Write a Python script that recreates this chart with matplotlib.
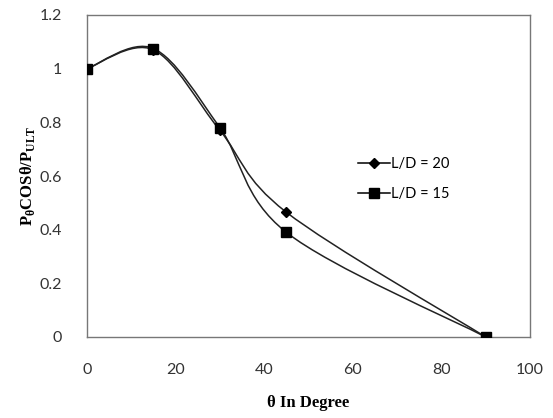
import numpy as np
import matplotlib.pyplot as plt
from matplotlib.path import Path
from matplotlib.patches import PathPatch

plt.rcParams['mathtext.fontset'] = 'custom'
plt.rcParams['mathtext.rm'] = 'Liberation Serif'
plt.rcParams['mathtext.bf'] = 'Liberation Serif:bold'

# data
theta = [0, 15, 30, 45, 90]
ld20 = [1.0, 1.07, 0.77, 0.465, 0.0]
ld15 = [1.0, 1.075, 0.78, 0.39, 0.0]

xticks = [0, 20, 40, 60, 80, 100]
yticks = [0, 0.2, 0.4, 0.6, 0.8, 1, 1.2]
ytick_labels = ['0', '0.2', '0.4', '0.6', '0.8', '1', '1.2']


def smooth_path(x, y):
    # Excel-like smoothed line: cubic bezier through the points
    p = np.column_stack([x, y]).astype(float)
    ext = np.vstack([p[0], p, p[-1]])
    verts = [p[0]]
    codes = [Path.MOVETO]
    for i in range(len(p) - 1):
        a, b, c, d = ext[i], ext[i + 1], ext[i + 2], ext[i + 3]
        verts += [b + (c - a) / 6, c - (d - b) / 6, c]
        codes += [Path.CURVE4] * 3
    return Path(verts, codes)


fig = plt.figure(figsize=(5.53, 4.18), dpi=100)
ax = fig.add_axes([87 / 553, 1 - 337 / 418, (530 - 87) / 553, (337 - 15) / 418])

tick_font = 'Lato'
for ys, mk, ms, lab in [(ld20, 'D', 5.5, 'L/D = 20'), (ld15, 's', 7, 'L/D = 15')]:
    ax.add_patch(PathPatch(smooth_path(theta, ys), fill=False, lw=1.1,
                           edgecolor='#222222', zorder=2))
    ax.plot(theta, ys, ls='none', marker=mk, ms=ms, color='black', zorder=3)
    ax.plot([], [], '-', marker=mk, ms=ms, color='black', lw=1.1, label=lab)

ax.set_xlim(0, 100)
ax.set_ylim(0, 1.2)
ax.set_xticks(xticks)
ax.set_yticks(yticks)
ax.set_yticklabels(ytick_labels)
ax.tick_params(axis='x', length=0, pad=19, labelsize=11.5, colors='#333333')
ax.tick_params(axis='y', length=0, pad=18, labelsize=11.5, colors='#333333')
for t in ax.get_xticklabels() + ax.get_yticklabels():
    t.set_family(tick_font)
for s in ax.spines.values():
    s.set_color('#777777')
    s.set_linewidth(1.0)

ax.set_xlabel('θ In Degree', family='Liberation Serif',
              fontweight='bold', fontsize=12, labelpad=13)
ax.set_ylabel(r'P$_{\mathbf{θ}}$COSθ/P$_{\mathbf{ULT}}$',
              family='Liberation Serif', fontweight='bold', fontsize=12, labelpad=2)

leg = ax.legend(loc='upper left', bbox_to_anchor=(0.582, 0.6), frameon=False,
                prop={'family': tick_font, 'size': 10.5}, handlelength=2.2,
                labelspacing=1.1, handletextpad=0.1)

fig.savefig('out.png', dpi=100)
